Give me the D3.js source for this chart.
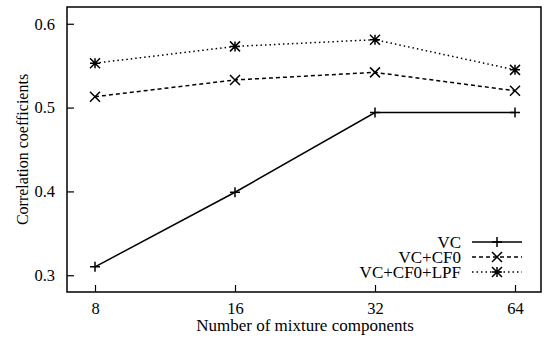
<!DOCTYPE html>
<html>
<head>
<meta charset="utf-8">
<script src="https://cdn.jsdelivr.net/npm/d3@7"></script>
<style>
  body { margin: 0; background: #fff; }
  text { font-family: "Liberation Serif", "Times New Roman", serif; fill: #000; }
</style>
</head>
<body>
<div id="chart"></div>
<script>
const components = [8, 16, 32, 64];
const vc = [0.310, 0.399, 0.494, 0.494];
const vcCf0 = [0.513, 0.533, 0.542, 0.520];
const vcCf0Lpf = [0.553, 0.573, 0.581, 0.545];
const seriesNames = ["VC", "VC+CF0", "VC+CF0+LPF"];
const yTicks = [0.3, 0.4, 0.5, 0.6];

const width = 544, height = 342;
const frame = {left: 67, right: 541, top: 7, bottom: 292};
const fontSize = "17px";

const svg = d3.select("#chart").append("svg")
    .attr("width", width)
    .attr("height", height);

// log2 spacing, the frame is a little wider than the data
const x = d3.scaleLog().base(2).domain([8, 64]).range([95, 515]);
const y = d3.scaleLinear().domain([0.28, 0.62]).range([frame.bottom, frame.top]);

// ticks point inward
svg.append("g")
    .attr("transform", "translate(0," + frame.bottom + ")")
    .call(d3.axisBottom(x).tickValues(components).tickFormat(d3.format("d")).tickSizeInner(-7).tickSizeOuter(0).tickPadding(10))
    .call(g => g.select(".domain").remove())
    .selectAll("text").style("font-size", "16.5px");

svg.append("g")
    .attr("transform", "translate(" + frame.left + ",0)")
    .call(d3.axisLeft(y).tickValues(yTicks).tickFormat(d3.format(".1f")).tickSizeInner(-7).tickSizeOuter(0).tickPadding(12))
    .call(g => g.select(".domain").remove())
    .selectAll("text").style("font-size", "16.5px");

svg.selectAll(".tick line").attr("stroke-width", 1.2);

svg.append("rect")
    .attr("x", frame.left)
    .attr("y", frame.top)
    .attr("width", frame.right - frame.left)
    .attr("height", frame.bottom - frame.top)
    .attr("fill", "none")
    .attr("stroke", "#000")
    .attr("stroke-width", 1.5);

svg.append("text")
    .attr("x", 305)
    .attr("y", 331)
    .attr("text-anchor", "middle")
    .style("font-size", fontSize)
    .text("Number of mixture components");

svg.append("text")
    .attr("transform", "translate(28," + ((frame.top + frame.bottom) / 2) + ")rotate(-90)")
    .attr("text-anchor", "middle")
    .style("font-size", "16px")
    .text("Correlation coefficients");

const dashes = [null, "4,3", "1.5,3"];
const markers = ["plus", "cross", "star"];

function drawMarker(g, type, cx, cy) {
    const r = 5;
    const p = d3.path();
    if (type == "plus" || type == "star") {
        p.moveTo(cx - r, cy); p.lineTo(cx + r, cy);
        p.moveTo(cx, cy - r); p.lineTo(cx, cy + r);
    }
    if (type == "cross" || type == "star") {
        p.moveTo(cx - r, cy - r); p.lineTo(cx + r, cy + r);
        p.moveTo(cx - r, cy + r); p.lineTo(cx + r, cy - r);
    }
    g.append("path")
        .attr("d", p.toString())
        .attr("stroke", "#000")
        .attr("stroke-width", 1.5)
        .attr("fill", "none");
}

const line = d3.line()
    .x((d, i) => x(components[i]))
    .y(d => y(d));

[vc, vcCf0, vcCf0Lpf].forEach((values, s) => {
    svg.append("path")
        .attr("d", line(values))
        .attr("fill", "none")
        .attr("stroke", "#000")
        .attr("stroke-width", 1.5)
        .attr("stroke-dasharray", dashes[s]);
    values.forEach((v, i) => drawMarker(svg, markers[s], x(components[i]), y(v)));
});

// legend, bottom right
const legend = svg.append("g");
seriesNames.forEach((name, s) => {
    const ly = 242 + s * 15;
    legend.append("text")
        .attr("x", 461)
        .attr("y", ly)
        .attr("dy", "0.35em")
        .attr("text-anchor", "end")
        .style("font-size", fontSize)
        .text(name);
    legend.append("line")
        .attr("x1", 472).attr("x2", 522)
        .attr("y1", ly).attr("y2", ly)
        .attr("stroke", "#000")
        .attr("stroke-width", 1.5)
        .attr("stroke-dasharray", dashes[s]);
    drawMarker(legend, markers[s], 497, ly);
});
</script>
</body>
</html>
